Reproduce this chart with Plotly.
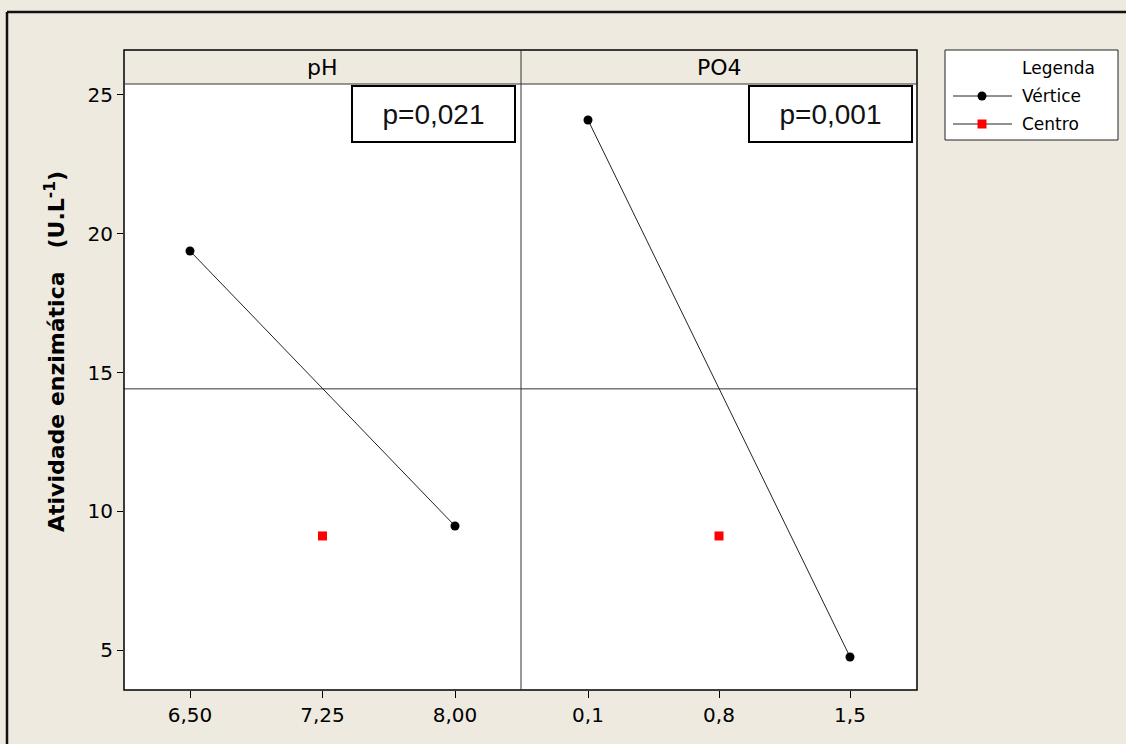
import plotly.graph_objects as go

# ---- data ----
ph_levels = [6.50, 8.00]
ph_vertex = [19.38, 9.47]
ph_center_x = [7.25]
po4_levels = [0.1, 1.5]
po4_vertex = [24.10, 4.75]
po4_center_x = [0.8]
center_value = [9.11]
grand_mean = 14.41

ph_ticks = [6.50, 7.25, 8.00]
ph_ticktext = ["6,50", "7,25", "8,00"]
po4_ticks = [0.1, 0.8, 1.5]
po4_ticktext = ["0,1", "0,8", "1,5"]
y_ticks = [5, 10, 15, 20, 25]
panel_titles = ["pH", "PO4"]
p_values = ["p=0,021", "p=0,001"]
legend_title = "Legenda"
legend_names = ["Vértice", "Centro"]

BG = "#EEEAE0"
TICKFONT = dict(family="DejaVu Sans", size=20, color="black")

fig = go.Figure()

fig.add_trace(go.Scatter(x=ph_levels, y=ph_vertex, mode="lines+markers", name=legend_names[0],
                         line=dict(color="#222222", width=1),
                         marker=dict(symbol="circle", size=9, color="black"),
                         xaxis="x", yaxis="y", showlegend=False))
fig.add_trace(go.Scatter(x=po4_levels, y=po4_vertex, mode="lines+markers", name=legend_names[0],
                         line=dict(color="#222222", width=1),
                         marker=dict(symbol="circle", size=9, color="black"),
                         xaxis="x2", yaxis="y", showlegend=False))
fig.add_trace(go.Scatter(x=ph_center_x, y=center_value, mode="markers", name=legend_names[1],
                         marker=dict(symbol="square", size=9, color="#FF0000"),
                         xaxis="x", yaxis="y", showlegend=False))
fig.add_trace(go.Scatter(x=po4_center_x, y=center_value, mode="markers", name=legend_names[1],
                         marker=dict(symbol="square", size=9, color="#FF0000"),
                         xaxis="x2", yaxis="y", showlegend=False))

W, H = 1126, 744
L, R, T, B = 124, 209, 50, 54
pw = W - L - R      # 793
ph = H - T - B      # 640
split = 397 / pw
ytop = (690 - 84) / ph


def px(xp):
    return (xp - L) / pw


def py(yp):
    return 1 - (yp - T) / ph


fig.update_layout(
    width=W, height=H,
    margin=dict(l=L, r=R, t=T, b=B),
    paper_bgcolor=BG, plot_bgcolor="white",
    showlegend=False,
    xaxis=dict(domain=[0, split], range=[6.1264, 8.3736], tickvals=ph_ticks, ticktext=ph_ticktext,
               showgrid=False, zeroline=False, showline=False, ticks="outside", ticklen=7,
               tickcolor="black", tickwidth=1, tickfont=TICKFONT, anchor="y"),
    xaxis2=dict(domain=[split, 1], range=[-0.258, 1.858], tickvals=po4_ticks, ticktext=po4_ticktext,
                showgrid=False, zeroline=False, showline=False, ticks="outside", ticklen=7,
                tickcolor="black", tickwidth=1, tickfont=TICKFONT, anchor="y"),
    yaxis=dict(domain=[0, ytop], range=[3.559, 25.396], tickvals=y_ticks,
               showgrid=False, zeroline=False, showline=False, ticks="outside", ticklen=6,
               tickcolor="black", tickwidth=1, tickfont=TICKFONT),
)

shapes = []
# frame
shapes.append(dict(type="rect", xref="paper", yref="paper", x0=0, x1=1, y0=0, y1=1,
                   line=dict(color="black", width=1.5), layer="above"))
# strip header bottom line
shapes.append(dict(type="line", xref="paper", yref="paper", x0=0, x1=1, y0=ytop, y1=ytop,
                   line=dict(color="#333333", width=1), layer="above"))
# panel divider
shapes.append(dict(type="line", xref="paper", yref="paper", x0=split, x1=split, y0=0, y1=1,
                   line=dict(color="#333333", width=1), layer="above"))
# grand mean line
shapes.append(dict(type="line", xref="paper", yref="y", x0=0, x1=1, y0=grand_mean, y1=grand_mean,
                   line=dict(color="#333333", width=1), layer="below"))
# outer border (left and top)
shapes.append(dict(type="line", xref="paper", yref="paper", x0=px(7), x1=px(7), y0=py(12), y1=py(800),
                   line=dict(color="#111111", width=2.5)))
shapes.append(dict(type="line", xref="paper", yref="paper", x0=px(7), x1=px(1200), y0=py(12), y1=py(12),
                   line=dict(color="#111111", width=2.5)))

# legend box (custom, to match the reference layout)
shapes.append(dict(type="rect", xref="paper", yref="paper", x0=px(945), x1=px(1118), y0=py(140), y1=py(50),
                   line=dict(color="#222222", width=1), fillcolor="white"))
for yy, kind in [(96, "circle"), (124, "square")]:
    shapes.append(dict(type="line", xref="paper", yref="paper", x0=px(953), x1=px(1012),
                       y0=py(yy), y1=py(yy), line=dict(color="#222222", width=1)))
    if kind == "circle":
        shapes.append(dict(type="circle", xref="paper", yref="paper", x0=px(977.5), x1=px(986.5),
                           y0=py(100.5), y1=py(91.5), line=dict(color="black", width=0), fillcolor="black"))
    else:
        shapes.append(dict(type="rect", xref="paper", yref="paper", x0=px(977.5), x1=px(986.5),
                           y0=py(128.5), y1=py(119.5), line=dict(color="#FF0000", width=0), fillcolor="#FF0000"))
fig.update_layout(shapes=shapes)

ann = []
for i, t in enumerate(panel_titles):
    cx = split / 2 if i == 0 else (split + 1) / 2
    ann.append(dict(text=t, xref="paper", yref="paper", x=cx, y=(1 + ytop) / 2,
                    xanchor="center", yanchor="middle", showarrow=False,
                    font=dict(family="DejaVu Sans", size=22, color="black")))
for i, t in enumerate(p_values):
    cx = px(433.5) if i == 0 else px(830.5)
    ann.append(dict(text=t, xref="paper", yref="paper", x=cx, y=py(114),
                    xanchor="center", yanchor="middle", showarrow=False,
                    width=161, height=54, borderpad=0, borderwidth=2, bordercolor="black",
                    bgcolor="white",
                    font=dict(family="Liberation Sans", size=28, color="#111111")))
ann.append(dict(text="<b>Atividade enzimática\u00a0\u00a0\u00a0(U.L<sup>-1</sup>)</b>",
                xref="paper", yref="paper", x=px(55), y=py(352),
                xanchor="center", yanchor="middle", textangle=-90, showarrow=False,
                font=dict(family="DejaVu Sans", size=22, color="black")))
# legend texts
for t, yy in [(legend_title, 68), (legend_names[0], 96), (legend_names[1], 124)]:
    ann.append(dict(text=t, xref="paper", yref="paper", x=px(1020), y=py(yy),
                    xanchor="left", yanchor="middle", showarrow=False,
                    font=dict(family="DejaVu Sans", size=17, color="black")))
fig.update_layout(annotations=ann)

fig.write_html("out.html")
